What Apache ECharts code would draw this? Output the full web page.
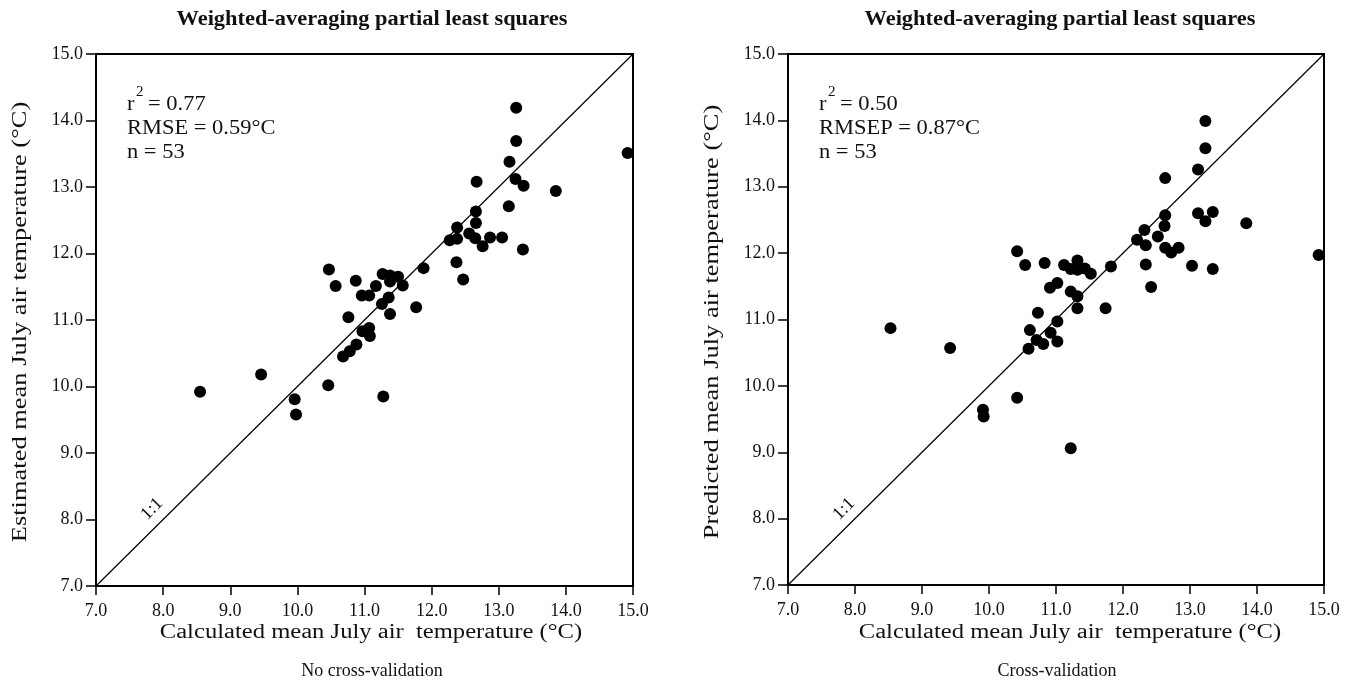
<!DOCTYPE html>
<html>
<head>
<meta charset="utf-8">
<script src="https://cdn.jsdelivr.net/npm/echarts@6/dist/echarts.min.js"></script>
<style>
html,body{margin:0;padding:0;background:#fff;}
#chart{width:1359px;height:700px;}
</style>
</head>
<body>
<div id="chart"></div>
<script>
// ---- data ----
const panelTitles = ['Weighted-averaging partial least squares', 'Weighted-averaging partial least squares'];
const subTitles = ['No cross-validation', 'Cross-validation'];
const xAxisNames = ['Calculated mean July air  temperature (°C)', 'Calculated mean July air  temperature (°C)'];
const yAxisNames = ['Estimated mean July air temperature (°C)', 'Predicted mean July air temperature (°C)'];
const statLabels = [['r', '2', '= 0.77', 'RMSE = 0.59°C', 'n = 53'], ['r', '2', '= 0.50', 'RMSEP = 0.87°C', 'n = 53']];
const oneToOne = [7, 15];

// left panel: calculated (x) vs estimated (y)
const leftX = [13.26, 13.26, 14.92, 13.16, 12.67, 13.25, 13.37, 13.85, 13.15, 12.66,
  12.66, 12.38, 12.56, 12.27, 12.38, 12.65, 12.76, 12.87, 13.05, 13.36,
  12.37, 12.47, 11.88, 10.47, 10.57, 10.87, 11.27, 11.38, 11.38, 11.50,
  11.57, 11.17, 10.96, 11.07, 11.36, 11.26, 11.77, 11.38, 10.76, 11.07,
  10.97, 11.08, 10.88, 10.78, 10.68, 9.46, 8.55, 10.46, 11.28, 9.96, 9.98];
const leftY = [14.19, 13.69, 13.51, 13.38, 13.08, 13.12, 13.02, 12.94, 12.71, 12.63,
  12.46, 12.39, 12.30, 12.20, 12.22, 12.23, 12.11, 12.24, 12.24, 12.06,
  11.87, 11.61, 11.78, 11.76, 11.51, 11.59, 11.69, 11.67, 11.58, 11.65,
  11.52, 11.51, 11.37, 11.37, 11.34, 11.24, 11.19, 11.09, 11.04, 10.88,
  10.83, 10.76, 10.63, 10.53, 10.45, 10.18, 9.92, 10.02, 9.85, 9.81, 9.58];

// right panel: calculated (x) vs predicted (y)
const rightX = [13.23, 13.23, 13.12, 12.63, 13.12, 13.34, 13.23, 13.84, 12.63, 12.62,
  12.32, 12.52, 12.21, 12.34, 12.63, 12.72, 12.83, 14.92, 12.34, 13.03,
  13.34, 12.42, 10.42, 10.54, 10.83, 11.12, 11.32, 11.22, 11.32, 11.43,
  11.52, 11.82, 10.91, 11.02, 11.22, 11.32, 11.32, 11.74, 10.73, 11.02,
  10.61, 10.92, 10.71, 11.02, 10.81, 10.59, 8.53, 9.42, 10.42, 9.91, 9.92, 11.22];
const rightY = [13.99, 13.58, 13.26, 13.13, 12.60, 12.62, 12.48, 12.45, 12.57, 12.41,
  12.35, 12.25, 12.20, 12.12, 12.08, 12.01, 12.08, 11.97, 11.83, 11.81,
  11.76, 11.49, 12.03, 11.82, 11.85, 11.82, 11.89, 11.76, 11.75, 11.77,
  11.69, 11.80, 11.48, 11.55, 11.42, 11.35, 11.17, 11.17, 11.10, 10.97,
  10.84, 10.80, 10.69, 10.67, 10.63, 10.56, 10.87, 10.57, 9.82, 9.64, 9.54, 9.06];

// ---- chart ----
const FONT = '"Liberation Serif", "DejaVu Serif", serif';
const grids = [
  {left: 96, top: 54, width: 537, height: 532},
  {left: 788, top: 54, width: 536, height: 531}
];
const xNameCenters = [371, 1070];
const yNameCenters = [20, 712];
const titleCenters = [372, 1060];
const subCenters = [372, 1057];

const chart = echarts.init(document.getElementById('chart'), null, {renderer: 'canvas'});

function pair(xs, ys) { return xs.map((x, i) => [x, ys[i]]); }

function xAx(i) {
  return {
    gridIndex: i, type: 'value', min: 7, max: 15, interval: 1,
    axisLine: {show: true, onZero: false, lineStyle: {color: '#000', width: 2}},
    axisTick: {show: true, length: 9, lineStyle: {color: '#000', width: 1.5}},
    axisLabel: {fontFamily: FONT, fontSize: 18, color: '#111', margin: 16, formatter: v => v.toFixed(1)},
    splitLine: {show: false}
  };
}
function yAx(i) {
  return {
    gridIndex: i, type: 'value', min: 7, max: 15, interval: 1,
    axisLine: {show: true, onZero: false, lineStyle: {color: '#000', width: 2}},
    axisTick: {show: true, length: 10, lineStyle: {color: '#000', width: 1.5}},
    axisLabel: {fontFamily: FONT, fontSize: 18, color: '#111', margin: 13, formatter: v => v.toFixed(1)},
    splitLine: {show: false}
  };
}

function panelGraphics(i) {
  const g = grids[i];
  const x0 = g.left + 31;
  const s = statLabels[i];
  const txt = '#111';
  const sx = 1.07;
  return [
    // statistics block
    {type: 'text', x: x0, y: 94, scaleX: sx, style: {text: s[0], font: '21px ' + FONT, fill: txt}},
    {type: 'text', x: x0 + 9, y: 85, scaleX: sx, style: {text: s[1], font: '14px ' + FONT, fill: txt}},
    {type: 'text', x: x0 + 21, y: 94, scaleX: sx, style: {text: s[2], font: '21px ' + FONT, fill: txt}},
    {type: 'text', x: x0, y: 118, scaleX: sx, style: {text: s[3], font: '21px ' + FONT, fill: txt}},
    {type: 'text', x: x0, y: 142, scaleX: sx, style: {text: s[4], font: '21px ' + FONT, fill: txt}},
    // 1:1 label
    {type: 'text', x: g.left + 56, y: g.top + 455, rotation: Math.PI / 4,
      style: {text: '1:1', font: '18px ' + FONT, fill: txt, align: 'center', verticalAlign: 'middle'}},
    // title
    {type: 'text', x: titleCenters[i], y: 20, scaleX: 1.12,
      style: {text: panelTitles[i], font: 'bold 20px ' + FONT, fill: txt, align: 'center', verticalAlign: 'middle'}},
    // x axis name
    {type: 'text', x: xNameCenters[i], y: 633, scaleX: 1.23,
      style: {text: xAxisNames[i], font: '20px ' + FONT, fill: txt, align: 'center', verticalAlign: 'middle'}},
    // y axis name
    {type: 'text', x: yNameCenters[i], y: 322, rotation: Math.PI / 2, scaleX: 1.26,
      style: {text: yAxisNames[i], font: '21px ' + FONT, fill: txt, align: 'center', verticalAlign: 'middle'}},
    // sub caption
    {type: 'text', x: subCenters[i], y: 671,
      style: {text: subTitles[i], font: '18px ' + FONT, fill: txt, align: 'center', verticalAlign: 'middle'}}
  ];
}

const option = {
  backgroundColor: '#fff',
  animation: false,
  grid: grids.map(g => Object.assign({show: true, borderColor: '#000', borderWidth: 2, backgroundColor: 'transparent'}, g)),
  xAxis: [xAx(0), xAx(1)],
  yAxis: [yAx(0), yAx(1)],
  series: [
    {type: 'line', xAxisIndex: 0, yAxisIndex: 0, data: pair(oneToOne, oneToOne), symbol: 'none', lineStyle: {color: '#000', width: 1.2}, silent: true},
    {type: 'line', xAxisIndex: 1, yAxisIndex: 1, data: pair(oneToOne, oneToOne), symbol: 'none', lineStyle: {color: '#000', width: 1.2}, silent: true},
    {type: 'scatter', xAxisIndex: 0, yAxisIndex: 0, data: pair(leftX, leftY), symbolSize: 12, itemStyle: {color: '#000', opacity: 1}},
    {type: 'scatter', xAxisIndex: 1, yAxisIndex: 1, data: pair(rightX, rightY), symbolSize: 12, itemStyle: {color: '#000', opacity: 1}}
  ],
  graphic: panelGraphics(0).concat(panelGraphics(1))
};
chart.setOption(option);
</script>
</body>
</html>
